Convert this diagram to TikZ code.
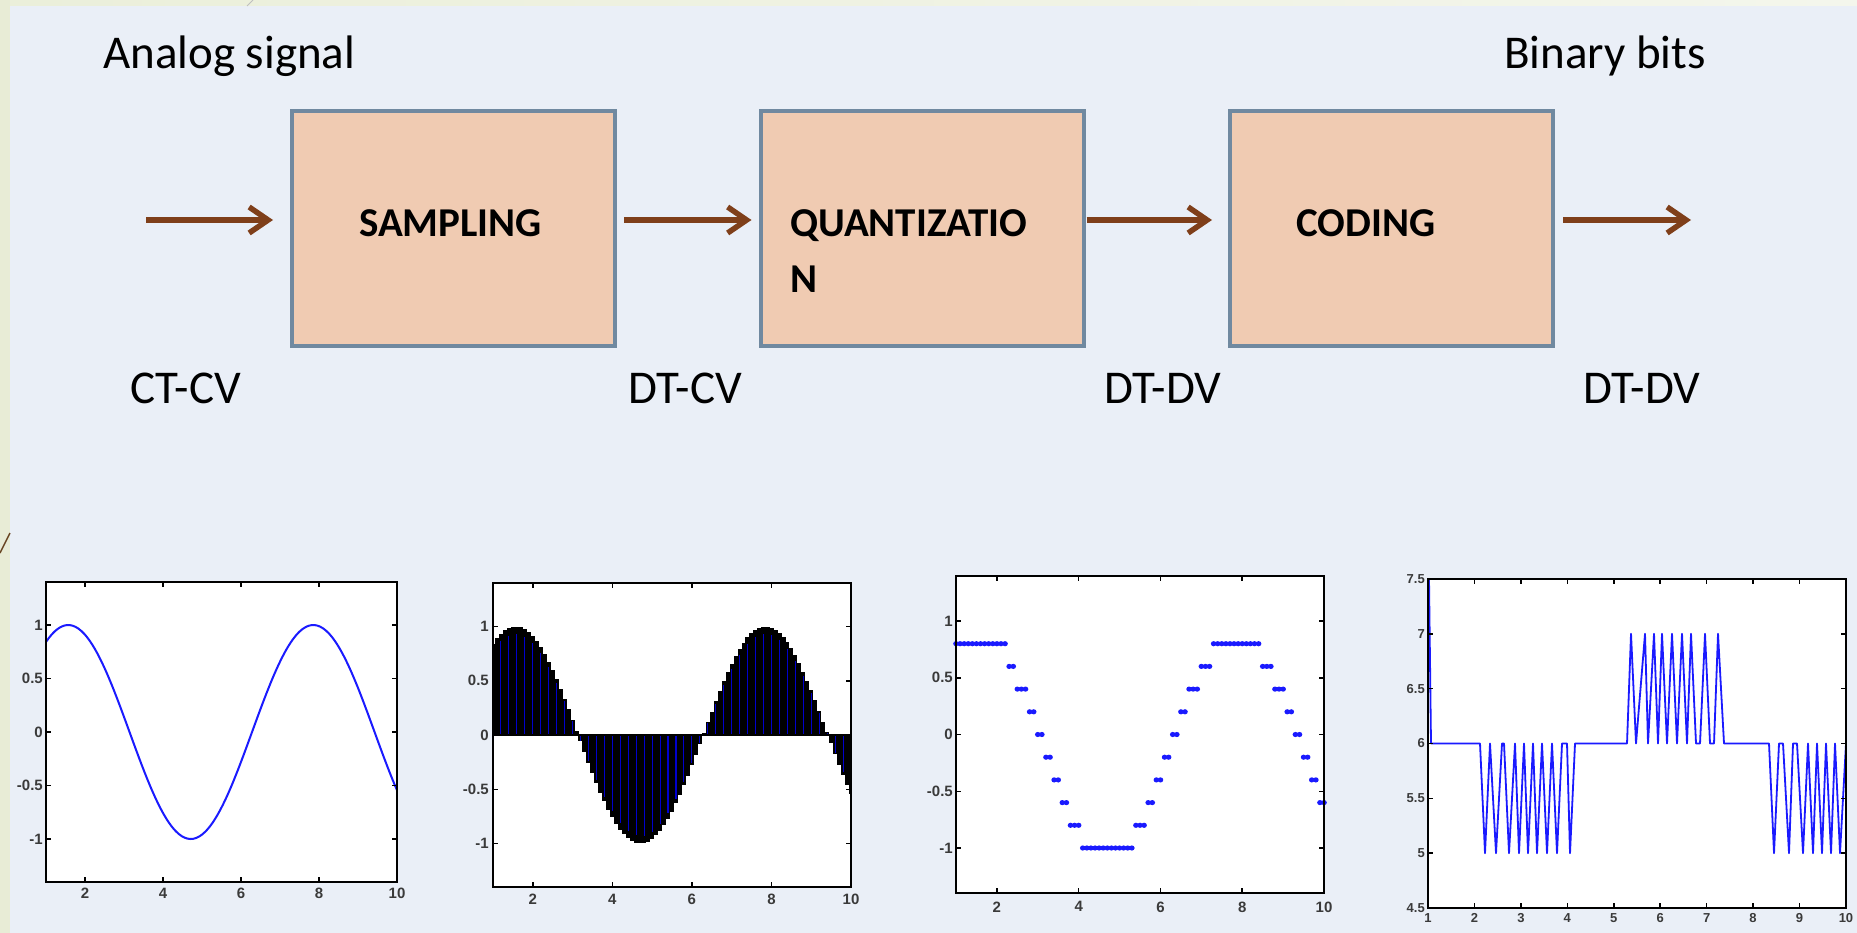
\documentclass[tikz,border=0pt]{standalone}
\usepackage{fontspec}
\setmainfont{Carlito}
\newfontfamily\tickfont{Liberation Sans}
\usetikzlibrary{arrows.meta}
\definecolor{panelbg}{HTML}{EAEFF7}
\definecolor{stripbg}{HTML}{E8ECD6}
\definecolor{stripL}{HTML}{EBEFDA}
\definecolor{stripR}{HTML}{F4F6EC}
\definecolor{boxfill}{HTML}{F0CBB2}
\definecolor{boxline}{HTML}{7089A0}
\definecolor{arrowbrown}{HTML}{7F3F1A}
\definecolor{plotblue}{HTML}{1A1AFF}
\definecolor{ticktext}{HTML}{3A3A3A}
\tikzset{
  stagebox/.style={draw=boxline, fill=boxfill, line width=4pt, minimum width=323pt, minimum height=235pt, inner sep=0pt},
  stagetext/.style={font=\fontsize{41}{49}\selectfont\bfseries, text=black, anchor=base west, inner sep=0pt},
  sigtext/.style={font=\fontsize{47}{56}\selectfont, text=black, anchor=base west, inner sep=0pt},
  flowarrow/.style={draw=arrowbrown, line width=5.5pt, -{Straight Barb[length=19pt,width=26pt]}},
  axframe/.style={draw=black, line width=2pt},
  tickmark/.style={draw=black, line width=1.5pt},
  ticklab/.style={font=\tickfont\fontsize{15}{15}\selectfont\bfseries, text=ticktext, inner sep=0pt},
  smallticklab/.style={font=\tickfont\fontsize{13}{13}\selectfont\bfseries, text=ticktext, inner sep=0pt},
}
\begin{document}
\begin{tikzpicture}[x=1pt,y=-1pt]
\useasboundingbox (0,0) rectangle (1857,933);
% background
\fill[stripbg] (0,0) rectangle (1857,933);
\shade[left color=stripL, right color=stripR] (10,0) rectangle (1857,6);
\fill[panelbg] (10,6) rectangle (1857,933);
\draw[color=black!45!brown, line width=1.5pt] (0,553) -- (10,533);
\draw[color=black!25, line width=1pt] (247,6) -- (253,0);

% stage boxes
\node[stagebox] (samp) at (453.5,228.5) {};
\node[stagebox] (quant) at (922,228.5) {};
\node[stagebox] (cod) at (1391.5,228.5) {};
\node[stagetext] (sampt) at (359,237) {SAMPLING};
\node[stagetext] (quantta) at (790,237) {QUANTIZATIO};
\node[stagetext] (quanttb) at (790,292) {N};
\node[stagetext] (codt) at (1296,237) {CODING};

% signal labels
\node[sigtext] (analog) at (103,69) {Analog signal};
\node[sigtext] (binary) at (1504,69) {Binary bits};
\node[sigtext] (lab1) at (130,403) {CT-CV};
\node[sigtext] (lab2) at (628,403) {DT-CV};
\node[sigtext] (lab3) at (1104,403) {DT-DV};
\node[sigtext] (lab4) at (1583,403) {DT-DV};

% arrows
\coordinate (src) at (146,220);
\coordinate (sink) at (1691,220);
\draw[flowarrow] (src) -- ([xshift=-17pt,yshift=8.5pt]samp.west);
\draw[flowarrow] ([xshift=7pt,yshift=8.5pt]samp.east) -- ([xshift=-7pt,yshift=8.5pt]quant.west);
\draw[flowarrow] ([xshift=1pt,yshift=8.5pt]quant.east) -- ([xshift=-16pt,yshift=8.5pt]cod.west);
\draw[flowarrow] ([xshift=8pt,yshift=8.5pt]cod.east) -- (sink);

% ---------- plot 1: analog sine ----------
\begin{scope}[xshift=7pt, yshift=-732pt, x=39pt, y=107pt]
  \fill[white] (1,-1.4) rectangle (10,1.4);
  \begin{scope}
    \clip (1,-1.4) rectangle (10,1.4);
    \draw[plotblue, line width=2pt] plot[domain=1:10, samples=120, smooth] (\x,{sin(\x r)});
  \end{scope}
  \foreach \t in {2,4,6,8,10} {
    \draw[tickmark] (\t,-1.4) -- ++(0pt,5pt);
    \draw[tickmark] (\t,1.4) -- ++(0pt,-5pt);
    \node[ticklab, anchor=north, yshift=-6pt] (pax\t) at (\t,-1.4) {\t};
  }
  \foreach \v [count=\i] in {-1,-0.5,0,0.5,1} {
    \draw[tickmark] (1,\v) -- ++(5pt,0pt);
    \draw[tickmark] (10,\v) -- ++(-5pt,0pt);
    \node[ticklab, anchor=east, xshift=-3pt] (pay\i) at (1,\v) {\v};
  }
  \draw[axframe] (1,-1.4) rectangle (10,1.4);
\end{scope}

% ---------- plot 2: sampled ----------
\begin{scope}[xshift=453.2pt, yshift=-735pt, x=39.78pt, y=108.5pt]
  \fill[white] (1,-1.4) rectangle (10,1.4);
  \begin{scope}
    \clip (1,-1.4) rectangle (10,1.4);
    \foreach \k in {0,...,90} {
      \pgfmathsetmacro\xx{1+0.1*\k}
      \pgfmathsetmacro\vv{sin(\xx r)}
      \fill[black] (\xx-0.053,0) rectangle (\xx+0.053,\vv);
    }
    \foreach \k in {0,2,...,90} {
      \pgfmathsetmacro\xx{1+0.1*\k}
      \pgfmathsetmacro\vv{0.93*sin(\xx r)}
      \draw[blue!80!black, line width=1.1pt] (\xx,0) -- (\xx,\vv);
    }
  \end{scope}
  \draw[black, line width=2pt] (1,0) -- (10,0);
  \foreach \t in {2,4,6,8,10} {
    \draw[tickmark] (\t,-1.4) -- ++(0pt,5pt);
    \draw[tickmark] (\t,1.4) -- ++(0pt,-5pt);
    \node[ticklab, anchor=north, yshift=-7pt] (pbx\t) at (\t,-1.4) {\t};
  }
  \foreach \v [count=\i] in {-1,-0.5,0,0.5,1} {
    \draw[tickmark] (1,\v) -- ++(5pt,0pt);
    \draw[tickmark] (10,\v) -- ++(-5pt,0pt);
    \node[ticklab, anchor=east, xshift=-4pt] (pby\i) at (1,\v) {\v};
  }
  \draw[axframe] (1,-1.4) rectangle (10,1.4);
\end{scope}

% ---------- plot 3: quantized ----------
\begin{scope}[xshift=915.1pt, yshift=-734.5pt, x=40.89pt, y=113.5pt]
  \fill[white] (1,-1.4) rectangle (10,1.4);
  \foreach \k in {0,...,90} {
    \pgfmathsetmacro\xx{1+0.1*\k}
    \pgfmathsetmacro\qq{floor(5*sin(\xx r))/5}
    \fill[plotblue] (\xx,\qq) ellipse[x radius=2.8pt, y radius=2.6pt];
  }
  \foreach \t in {2,4,6,8,10} {
    \draw[tickmark] (\t,-1.4) -- ++(0pt,5pt);
    \draw[tickmark] (\t,1.4) -- ++(0pt,-5pt);
    \node[ticklab, anchor=north, yshift=-8pt] (pcx\t) at (\t,-1.4) {\t};
  }
  \foreach \v [count=\i] in {-1,-0.5,0,0.5,1} {
    \draw[tickmark] (1,\v) -- ++(5pt,0pt);
    \draw[tickmark] (10,\v) -- ++(-5pt,0pt);
    \node[ticklab, anchor=east, xshift=-3pt] (pcy\i) at (1,\v) {\v};
  }
  \draw[axframe] (1,-1.4) rectangle (10,1.4);
\end{scope}

% ---------- plot 4: coded ----------
\fill[white] (1428,579) rectangle (1846,908);
\draw[plotblue, line width=1.8pt, line join=round]
  (1429,579) -- (1431,743.5) -- (1480,743.5) -- (1485,853.2) -- (1490,743.5) -- (1496,853.2)
  -- (1502,743.5) -- (1504,743.5) -- (1509,853.2) -- (1515,743.5) -- (1519,853.2) -- (1524,743.5)
  -- (1528,853.2) -- (1533,743.5) -- (1537,853.2) -- (1542,743.5) -- (1547,853.2) -- (1552,743.5)
  -- (1557,853.2) -- (1562,743.5) -- (1567,743.5) -- (1570,853.2) -- (1575,743.5) -- (1627,743.5)
  -- (1631,633.8) -- (1636,743.5) -- (1645,633.8) -- (1648,743.5) -- (1654,633.8) -- (1658,743.5)
  -- (1662,633.8) -- (1667,743.5) -- (1672,633.8) -- (1677,743.5) -- (1682,633.8) -- (1687,743.5)
  -- (1691,633.8) -- (1696,743.5) -- (1700,743.5) -- (1705,633.8) -- (1710,743.5) -- (1714,743.5)
  -- (1718,633.8) -- (1724,743.5) -- (1769,743.5) -- (1774,853.2) -- (1779,743.5) -- (1783,743.5)
  -- (1789,853.2) -- (1793,743.5) -- (1797,743.5) -- (1803,853.2) -- (1808,743.5) -- (1813,853.2)
  -- (1817,743.5) -- (1822,853.2) -- (1826,743.5) -- (1831,853.2) -- (1835,743.5) -- (1840,853.2)
  -- (1846,743.5);
\begin{scope}[xshift=1381.56pt, yshift=-1401.5pt, x=46.44pt, y=109.67pt]
  \foreach \t in {1,...,10} {
    \draw[tickmark] (\t,4.5) -- ++(0pt,5pt);
    \draw[tickmark] (\t,7.5) -- ++(0pt,-5pt);
    \node[smallticklab, anchor=north, yshift=-5pt] (pdx\t) at (\t,4.5) {\t};
  }
  \foreach \v [count=\i] in {4.5,5,5.5,6,6.5,7,7.5} {
    \draw[tickmark] (1,\v) -- ++(5pt,0pt);
    \draw[tickmark] (10,\v) -- ++(-5pt,0pt);
    \node[smallticklab, anchor=east, xshift=-3pt] (pdy\i) at (1,\v) {\v};
  }
  \draw[axframe] (1,4.5) rectangle (10,7.5);
\end{scope}
\end{tikzpicture}
\end{document}
